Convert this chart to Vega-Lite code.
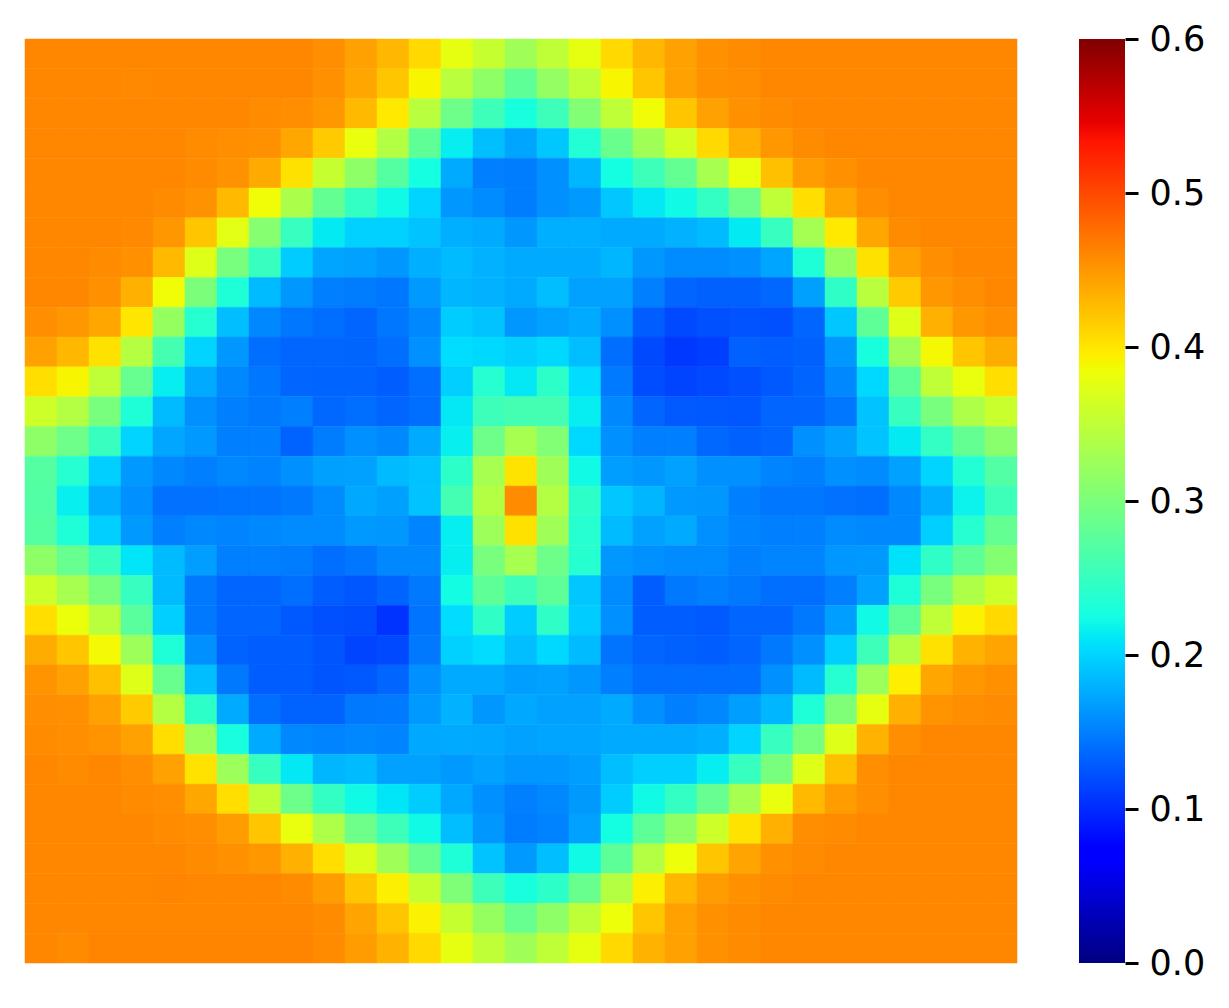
{"$schema":"https://vega.github.io/schema/vega-lite/v6.json","background":"white","padding":{"left":24,"top":22,"right":0,"bottom":0},"spacing":61,"config":{"view":{"stroke":null}},"hconcat":[{"width":992,"height":924,"data":{"values":[
{"c":0,"r":0,"v":0.46},{"c":1,"r":0,"v":0.46},{"c":2,"r":0,"v":0.46},{"c":3,"r":0,"v":0.46},{"c":4,"r":0,"v":0.46},{"c":5,"r":0,"v":0.46},{"c":6,"r":0,"v":0.46},{"c":7,"r":0,"v":0.46},{"c":8,"r":0,"v":0.46},{"c":9,"r":0,"v":0.455},{"c":10,"r":0,"v":0.444},{"c":11,"r":0,"v":0.43},{"c":12,"r":0,"v":0.408},{"c":13,"r":0,"v":0.378},{"c":14,"r":0,"v":0.355},{"c":15,"r":0,"v":0.327},{"c":16,"r":0,"v":0.35},{"c":17,"r":0,"v":0.378},{"c":18,"r":0,"v":0.408},{"c":19,"r":0,"v":0.43},{"c":20,"r":0,"v":0.444},{"c":21,"r":0,"v":0.454},{"c":22,"r":0,"v":0.458},{"c":23,"r":0,"v":0.46},{"c":24,"r":0,"v":0.46},{"c":25,"r":0,"v":0.46},{"c":26,"r":0,"v":0.46},{"c":27,"r":0,"v":0.46},{"c":28,"r":0,"v":0.46},{"c":29,"r":0,"v":0.46},{"c":30,"r":0,"v":0.46},
{"c":0,"r":1,"v":0.46},{"c":1,"r":1,"v":0.46},{"c":2,"r":1,"v":0.46},{"c":3,"r":1,"v":0.459},{"c":4,"r":1,"v":0.46},{"c":5,"r":1,"v":0.46},{"c":6,"r":1,"v":0.46},{"c":7,"r":1,"v":0.46},{"c":8,"r":1,"v":0.46},{"c":9,"r":1,"v":0.454},{"c":10,"r":1,"v":0.44},{"c":11,"r":1,"v":0.42},{"c":12,"r":1,"v":0.39},{"c":13,"r":1,"v":0.345},{"c":14,"r":1,"v":0.315},{"c":15,"r":1,"v":0.28},{"c":16,"r":1,"v":0.318},{"c":17,"r":1,"v":0.35},{"c":18,"r":1,"v":0.39},{"c":19,"r":1,"v":0.42},{"c":20,"r":1,"v":0.444},{"c":21,"r":1,"v":0.454},{"c":22,"r":1,"v":0.456},{"c":23,"r":1,"v":0.46},{"c":24,"r":1,"v":0.46},{"c":25,"r":1,"v":0.46},{"c":26,"r":1,"v":0.46},{"c":27,"r":1,"v":0.46},{"c":28,"r":1,"v":0.46},{"c":29,"r":1,"v":0.46},{"c":30,"r":1,"v":0.46},
{"c":0,"r":2,"v":0.46},{"c":1,"r":2,"v":0.46},{"c":2,"r":2,"v":0.46},{"c":3,"r":2,"v":0.46},{"c":4,"r":2,"v":0.46},{"c":5,"r":2,"v":0.46},{"c":6,"r":2,"v":0.46},{"c":7,"r":2,"v":0.458},{"c":8,"r":2,"v":0.456},{"c":9,"r":2,"v":0.45},{"c":10,"r":2,"v":0.428},{"c":11,"r":2,"v":0.398},{"c":12,"r":2,"v":0.345},{"c":13,"r":2,"v":0.29},{"c":14,"r":2,"v":0.255},{"c":15,"r":2,"v":0.228},{"c":16,"r":2,"v":0.255},{"c":17,"r":2,"v":0.305},{"c":18,"r":2,"v":0.35},{"c":19,"r":2,"v":0.385},{"c":20,"r":2,"v":0.42},{"c":21,"r":2,"v":0.444},{"c":22,"r":2,"v":0.454},{"c":23,"r":2,"v":0.458},{"c":24,"r":2,"v":0.46},{"c":25,"r":2,"v":0.46},{"c":26,"r":2,"v":0.46},{"c":27,"r":2,"v":0.46},{"c":28,"r":2,"v":0.46},{"c":29,"r":2,"v":0.46},{"c":30,"r":2,"v":0.46},
{"c":0,"r":3,"v":0.46},{"c":1,"r":3,"v":0.46},{"c":2,"r":3,"v":0.46},{"c":3,"r":3,"v":0.46},{"c":4,"r":3,"v":0.46},{"c":5,"r":3,"v":0.458},{"c":6,"r":3,"v":0.455},{"c":7,"r":3,"v":0.454},{"c":8,"r":3,"v":0.44},{"c":9,"r":3,"v":0.417},{"c":10,"r":3,"v":0.38},{"c":11,"r":3,"v":0.34},{"c":12,"r":3,"v":0.28},{"c":13,"r":3,"v":0.215},{"c":14,"r":3,"v":0.1875},{"c":15,"r":3,"v":0.172},{"c":16,"r":3,"v":0.192},{"c":17,"r":3,"v":0.235},{"c":18,"r":3,"v":0.287},{"c":19,"r":3,"v":0.327},{"c":20,"r":3,"v":0.365},{"c":21,"r":3,"v":0.408},{"c":22,"r":3,"v":0.434},{"c":23,"r":3,"v":0.45},{"c":24,"r":3,"v":0.458},{"c":25,"r":3,"v":0.46},{"c":26,"r":3,"v":0.46},{"c":27,"r":3,"v":0.46},{"c":28,"r":3,"v":0.46},{"c":29,"r":3,"v":0.46},{"c":30,"r":3,"v":0.46},
{"c":0,"r":4,"v":0.46},{"c":1,"r":4,"v":0.46},{"c":2,"r":4,"v":0.46},{"c":3,"r":4,"v":0.46},{"c":4,"r":4,"v":0.46},{"c":5,"r":4,"v":0.458},{"c":6,"r":4,"v":0.453},{"c":7,"r":4,"v":0.438},{"c":8,"r":4,"v":0.403},{"c":9,"r":4,"v":0.355},{"c":10,"r":4,"v":0.315},{"c":11,"r":4,"v":0.272},{"c":12,"r":4,"v":0.226},{"c":13,"r":4,"v":0.175},{"c":14,"r":4,"v":0.15},{"c":15,"r":4,"v":0.148},{"c":16,"r":4,"v":0.16},{"c":17,"r":4,"v":0.182},{"c":18,"r":4,"v":0.225},{"c":19,"r":4,"v":0.255},{"c":20,"r":4,"v":0.283},{"c":21,"r":4,"v":0.332},{"c":22,"r":4,"v":0.38},{"c":23,"r":4,"v":0.424},{"c":24,"r":4,"v":0.447},{"c":25,"r":4,"v":0.454},{"c":26,"r":4,"v":0.46},{"c":27,"r":4,"v":0.46},{"c":28,"r":4,"v":0.46},{"c":29,"r":4,"v":0.46},{"c":30,"r":4,"v":0.46},
{"c":0,"r":5,"v":0.46},{"c":1,"r":5,"v":0.46},{"c":2,"r":5,"v":0.46},{"c":3,"r":5,"v":0.46},{"c":4,"r":5,"v":0.458},{"c":5,"r":5,"v":0.453},{"c":6,"r":5,"v":0.428},{"c":7,"r":5,"v":0.385},{"c":8,"r":5,"v":0.335},{"c":9,"r":5,"v":0.283},{"c":10,"r":5,"v":0.248},{"c":11,"r":5,"v":0.222},{"c":12,"r":5,"v":0.2},{"c":13,"r":5,"v":0.164},{"c":14,"r":5,"v":0.157},{"c":15,"r":5,"v":0.148},{"c":16,"r":5,"v":0.16},{"c":17,"r":5,"v":0.166},{"c":18,"r":5,"v":0.192},{"c":19,"r":5,"v":0.212},{"c":20,"r":5,"v":0.222},{"c":21,"r":5,"v":0.248},{"c":22,"r":5,"v":0.29},{"c":23,"r":5,"v":0.35},{"c":24,"r":5,"v":0.405},{"c":25,"r":5,"v":0.44},{"c":26,"r":5,"v":0.456},{"c":27,"r":5,"v":0.46},{"c":28,"r":5,"v":0.46},{"c":29,"r":5,"v":0.46},{"c":30,"r":5,"v":0.46},
{"c":0,"r":6,"v":0.46},{"c":1,"r":6,"v":0.46},{"c":2,"r":6,"v":0.46},{"c":3,"r":6,"v":0.459},{"c":4,"r":6,"v":0.45},{"c":5,"r":6,"v":0.42},{"c":6,"r":6,"v":0.375},{"c":7,"r":6,"v":0.308},{"c":8,"r":6,"v":0.25},{"c":9,"r":6,"v":0.213},{"c":10,"r":6,"v":0.198},{"c":11,"r":6,"v":0.198},{"c":12,"r":6,"v":0.19},{"c":13,"r":6,"v":0.178},{"c":14,"r":6,"v":0.175},{"c":15,"r":6,"v":0.164},{"c":16,"r":6,"v":0.178},{"c":17,"r":6,"v":0.178},{"c":18,"r":6,"v":0.175},{"c":19,"r":6,"v":0.175},{"c":20,"r":6,"v":0.18},{"c":21,"r":6,"v":0.185},{"c":22,"r":6,"v":0.213},{"c":23,"r":6,"v":0.25},{"c":24,"r":6,"v":0.33},{"c":25,"r":6,"v":0.398},{"c":26,"r":6,"v":0.44},{"c":27,"r":6,"v":0.458},{"c":28,"r":6,"v":0.46},{"c":29,"r":6,"v":0.46},{"c":30,"r":6,"v":0.46},
{"c":0,"r":7,"v":0.46},{"c":1,"r":7,"v":0.46},{"c":2,"r":7,"v":0.458},{"c":3,"r":7,"v":0.454},{"c":4,"r":7,"v":0.428},{"c":5,"r":7,"v":0.372},{"c":6,"r":7,"v":0.298},{"c":7,"r":7,"v":0.25},{"c":8,"r":7,"v":0.195},{"c":9,"r":7,"v":0.172},{"c":10,"r":7,"v":0.17},{"c":11,"r":7,"v":0.164},{"c":12,"r":7,"v":0.178},{"c":13,"r":7,"v":0.185},{"c":14,"r":7,"v":0.18},{"c":15,"r":7,"v":0.175},{"c":16,"r":7,"v":0.176},{"c":17,"r":7,"v":0.176},{"c":18,"r":7,"v":0.182},{"c":19,"r":7,"v":0.164},{"c":20,"r":7,"v":0.157},{"c":21,"r":7,"v":0.157},{"c":22,"r":7,"v":0.16},{"c":23,"r":7,"v":0.172},{"c":24,"r":7,"v":0.232},{"c":25,"r":7,"v":0.32},{"c":26,"r":7,"v":0.403},{"c":27,"r":7,"v":0.444},{"c":28,"r":7,"v":0.456},{"c":29,"r":7,"v":0.46},{"c":30,"r":7,"v":0.46},
{"c":0,"r":8,"v":0.46},{"c":1,"r":8,"v":0.46},{"c":2,"r":8,"v":0.454},{"c":3,"r":8,"v":0.434},{"c":4,"r":8,"v":0.385},{"c":5,"r":8,"v":0.3},{"c":6,"r":8,"v":0.232},{"c":7,"r":8,"v":0.185},{"c":8,"r":8,"v":0.164},{"c":9,"r":8,"v":0.15},{"c":10,"r":8,"v":0.148},{"c":11,"r":8,"v":0.145},{"c":12,"r":8,"v":0.166},{"c":13,"r":8,"v":0.183},{"c":14,"r":8,"v":0.18},{"c":15,"r":8,"v":0.175},{"c":16,"r":8,"v":0.187},{"c":17,"r":8,"v":0.17},{"c":18,"r":8,"v":0.17},{"c":19,"r":8,"v":0.15},{"c":20,"r":8,"v":0.135},{"c":21,"r":8,"v":0.132},{"c":22,"r":8,"v":0.132},{"c":23,"r":8,"v":0.136},{"c":24,"r":8,"v":0.169},{"c":25,"r":8,"v":0.245},{"c":26,"r":8,"v":0.345},{"c":27,"r":8,"v":0.417},{"c":28,"r":8,"v":0.45},{"c":29,"r":8,"v":0.456},{"c":30,"r":8,"v":0.46},
{"c":0,"r":9,"v":0.455},{"c":1,"r":9,"v":0.45},{"c":2,"r":9,"v":0.44},{"c":3,"r":9,"v":0.4},{"c":4,"r":9,"v":0.32},{"c":5,"r":9,"v":0.238},{"c":6,"r":9,"v":0.187},{"c":7,"r":9,"v":0.155},{"c":8,"r":9,"v":0.145},{"c":9,"r":9,"v":0.14},{"c":10,"r":9,"v":0.135},{"c":11,"r":9,"v":0.145},{"c":12,"r":9,"v":0.155},{"c":13,"r":9,"v":0.195},{"c":14,"r":9,"v":0.19},{"c":15,"r":9,"v":0.164},{"c":16,"r":9,"v":0.17},{"c":17,"r":9,"v":0.175},{"c":18,"r":9,"v":0.16},{"c":19,"r":9,"v":0.13},{"c":20,"r":9,"v":0.118},{"c":21,"r":9,"v":0.122},{"c":22,"r":9,"v":0.124},{"c":23,"r":9,"v":0.122},{"c":24,"r":9,"v":0.135},{"c":25,"r":9,"v":0.192},{"c":26,"r":9,"v":0.28},{"c":27,"r":9,"v":0.372},{"c":28,"r":9,"v":0.434},{"c":29,"r":9,"v":0.45},{"c":30,"r":9,"v":0.455},
{"c":0,"r":10,"v":0.444},{"c":1,"r":10,"v":0.43},{"c":2,"r":10,"v":0.403},{"c":3,"r":10,"v":0.342},{"c":4,"r":10,"v":0.26},{"c":5,"r":10,"v":0.2},{"c":6,"r":10,"v":0.164},{"c":7,"r":10,"v":0.14},{"c":8,"r":10,"v":0.135},{"c":9,"r":10,"v":0.135},{"c":10,"r":10,"v":0.134},{"c":11,"r":10,"v":0.14},{"c":12,"r":10,"v":0.16},{"c":13,"r":10,"v":0.205},{"c":14,"r":10,"v":0.203},{"c":15,"r":10,"v":0.197},{"c":16,"r":10,"v":0.203},{"c":17,"r":10,"v":0.187},{"c":18,"r":10,"v":0.14},{"c":19,"r":10,"v":0.118},{"c":20,"r":10,"v":0.108},{"c":21,"r":10,"v":0.112},{"c":22,"r":10,"v":0.132},{"c":23,"r":10,"v":0.13},{"c":24,"r":10,"v":0.132},{"c":25,"r":10,"v":0.164},{"c":26,"r":10,"v":0.228},{"c":27,"r":10,"v":0.327},{"c":28,"r":10,"v":0.388},{"c":29,"r":10,"v":0.42},{"c":30,"r":10,"v":0.437},
{"c":0,"r":11,"v":0.405},{"c":1,"r":11,"v":0.39},{"c":2,"r":11,"v":0.35},{"c":3,"r":11,"v":0.285},{"c":4,"r":11,"v":0.215},{"c":5,"r":11,"v":0.175},{"c":6,"r":11,"v":0.155},{"c":7,"r":11,"v":0.145},{"c":8,"r":11,"v":0.135},{"c":9,"r":11,"v":0.134},{"c":10,"r":11,"v":0.134},{"c":11,"r":11,"v":0.13},{"c":12,"r":11,"v":0.14},{"c":13,"r":11,"v":0.197},{"c":14,"r":11,"v":0.238},{"c":15,"r":11,"v":0.212},{"c":16,"r":11,"v":0.243},{"c":17,"r":11,"v":0.205},{"c":18,"r":11,"v":0.147},{"c":19,"r":11,"v":0.12},{"c":20,"r":11,"v":0.115},{"c":21,"r":11,"v":0.118},{"c":22,"r":11,"v":0.122},{"c":23,"r":11,"v":0.127},{"c":24,"r":11,"v":0.134},{"c":25,"r":11,"v":0.155},{"c":26,"r":11,"v":0.203},{"c":27,"r":11,"v":0.28},{"c":28,"r":11,"v":0.35},{"c":29,"r":11,"v":0.38},{"c":30,"r":11,"v":0.405},
{"c":0,"r":12,"v":0.36},{"c":1,"r":12,"v":0.34},{"c":2,"r":12,"v":0.298},{"c":3,"r":12,"v":0.232},{"c":4,"r":12,"v":0.185},{"c":5,"r":12,"v":0.16},{"c":6,"r":12,"v":0.15},{"c":7,"r":12,"v":0.146},{"c":8,"r":12,"v":0.15},{"c":9,"r":12,"v":0.136},{"c":10,"r":12,"v":0.14},{"c":11,"r":12,"v":0.135},{"c":12,"r":12,"v":0.14},{"c":13,"r":12,"v":0.212},{"c":14,"r":12,"v":0.255},{"c":15,"r":12,"v":0.26},{"c":16,"r":12,"v":0.26},{"c":17,"r":12,"v":0.215},{"c":18,"r":12,"v":0.155},{"c":19,"r":12,"v":0.135},{"c":20,"r":12,"v":0.128},{"c":21,"r":12,"v":0.127},{"c":22,"r":12,"v":0.126},{"c":23,"r":12,"v":0.135},{"c":24,"r":12,"v":0.135},{"c":25,"r":12,"v":0.145},{"c":26,"r":12,"v":0.19},{"c":27,"r":12,"v":0.25},{"c":28,"r":12,"v":0.298},{"c":29,"r":12,"v":0.337},{"c":30,"r":12,"v":0.357},
{"c":0,"r":13,"v":0.315},{"c":1,"r":13,"v":0.29},{"c":2,"r":13,"v":0.25},{"c":3,"r":13,"v":0.2},{"c":4,"r":13,"v":0.173},{"c":5,"r":13,"v":0.165},{"c":6,"r":13,"v":0.15},{"c":7,"r":13,"v":0.15},{"c":8,"r":13,"v":0.133},{"c":9,"r":13,"v":0.148},{"c":10,"r":13,"v":0.16},{"c":11,"r":13,"v":0.155},{"c":12,"r":13,"v":0.176},{"c":13,"r":13,"v":0.216},{"c":14,"r":13,"v":0.29},{"c":15,"r":13,"v":0.332},{"c":16,"r":13,"v":0.305},{"c":17,"r":13,"v":0.203},{"c":18,"r":13,"v":0.16},{"c":19,"r":13,"v":0.15},{"c":20,"r":13,"v":0.15},{"c":21,"r":13,"v":0.136},{"c":22,"r":13,"v":0.132},{"c":23,"r":13,"v":0.135},{"c":24,"r":13,"v":0.16},{"c":25,"r":13,"v":0.17},{"c":26,"r":13,"v":0.19},{"c":27,"r":13,"v":0.213},{"c":28,"r":13,"v":0.248},{"c":29,"r":13,"v":0.283},{"c":30,"r":13,"v":0.31},
{"c":0,"r":14,"v":0.272},{"c":1,"r":14,"v":0.238},{"c":2,"r":14,"v":0.197},{"c":3,"r":14,"v":0.166},{"c":4,"r":14,"v":0.155},{"c":5,"r":14,"v":0.15},{"c":6,"r":14,"v":0.155},{"c":7,"r":14,"v":0.152},{"c":8,"r":14,"v":0.16},{"c":9,"r":14,"v":0.169},{"c":10,"r":14,"v":0.17},{"c":11,"r":14,"v":0.185},{"c":12,"r":14,"v":0.19},{"c":13,"r":14,"v":0.243},{"c":14,"r":14,"v":0.332},{"c":15,"r":14,"v":0.402},{"c":16,"r":14,"v":0.327},{"c":17,"r":14,"v":0.222},{"c":18,"r":14,"v":0.168},{"c":19,"r":14,"v":0.164},{"c":20,"r":14,"v":0.17},{"c":21,"r":14,"v":0.16},{"c":22,"r":14,"v":0.16},{"c":23,"r":14,"v":0.153},{"c":24,"r":14,"v":0.15},{"c":25,"r":14,"v":0.16},{"c":26,"r":14,"v":0.157},{"c":27,"r":14,"v":0.17},{"c":28,"r":14,"v":0.2},{"c":29,"r":14,"v":0.235},{"c":30,"r":14,"v":0.27},
{"c":0,"r":15,"v":0.27},{"c":1,"r":15,"v":0.216},{"c":2,"r":15,"v":0.178},{"c":3,"r":15,"v":0.16},{"c":4,"r":15,"v":0.142},{"c":5,"r":15,"v":0.142},{"c":6,"r":15,"v":0.143},{"c":7,"r":15,"v":0.143},{"c":8,"r":15,"v":0.146},{"c":9,"r":15,"v":0.157},{"c":10,"r":15,"v":0.174},{"c":11,"r":15,"v":0.169},{"c":12,"r":15,"v":0.19},{"c":13,"r":15,"v":0.26},{"c":14,"r":15,"v":0.34},{"c":15,"r":15,"v":0.458},{"c":16,"r":15,"v":0.34},{"c":17,"r":15,"v":0.243},{"c":18,"r":15,"v":0.192},{"c":19,"r":15,"v":0.182},{"c":20,"r":15,"v":0.166},{"c":21,"r":15,"v":0.164},{"c":22,"r":15,"v":0.15},{"c":23,"r":15,"v":0.145},{"c":24,"r":15,"v":0.145},{"c":25,"r":15,"v":0.142},{"c":26,"r":15,"v":0.14},{"c":27,"r":15,"v":0.155},{"c":28,"r":15,"v":0.178},{"c":29,"r":15,"v":0.218},{"c":30,"r":15,"v":0.255},
{"c":0,"r":16,"v":0.272},{"c":1,"r":16,"v":0.232},{"c":2,"r":16,"v":0.197},{"c":3,"r":16,"v":0.166},{"c":4,"r":16,"v":0.15},{"c":5,"r":16,"v":0.155},{"c":6,"r":16,"v":0.153},{"c":7,"r":16,"v":0.155},{"c":8,"r":16,"v":0.157},{"c":9,"r":16,"v":0.157},{"c":10,"r":16,"v":0.166},{"c":11,"r":16,"v":0.164},{"c":12,"r":16,"v":0.153},{"c":13,"r":16,"v":0.215},{"c":14,"r":16,"v":0.325},{"c":15,"r":16,"v":0.403},{"c":16,"r":16,"v":0.327},{"c":17,"r":16,"v":0.238},{"c":18,"r":16,"v":0.185},{"c":19,"r":16,"v":0.17},{"c":20,"r":16,"v":0.176},{"c":21,"r":16,"v":0.16},{"c":22,"r":16,"v":0.153},{"c":23,"r":16,"v":0.15},{"c":24,"r":16,"v":0.15},{"c":25,"r":16,"v":0.157},{"c":26,"r":16,"v":0.155},{"c":27,"r":16,"v":0.155},{"c":28,"r":16,"v":0.197},{"c":29,"r":16,"v":0.238},{"c":30,"r":16,"v":0.283},
{"c":0,"r":17,"v":0.315},{"c":1,"r":17,"v":0.285},{"c":2,"r":17,"v":0.25},{"c":3,"r":17,"v":0.21},{"c":4,"r":17,"v":0.185},{"c":5,"r":17,"v":0.168},{"c":6,"r":17,"v":0.15},{"c":7,"r":17,"v":0.15},{"c":8,"r":17,"v":0.148},{"c":9,"r":17,"v":0.14},{"c":10,"r":17,"v":0.145},{"c":11,"r":17,"v":0.155},{"c":12,"r":17,"v":0.155},{"c":13,"r":17,"v":0.215},{"c":14,"r":17,"v":0.298},{"c":15,"r":17,"v":0.332},{"c":16,"r":17,"v":0.29},{"c":17,"r":17,"v":0.238},{"c":18,"r":17,"v":0.164},{"c":19,"r":17,"v":0.16},{"c":20,"r":17,"v":0.157},{"c":21,"r":17,"v":0.157},{"c":22,"r":17,"v":0.15},{"c":23,"r":17,"v":0.153},{"c":24,"r":17,"v":0.153},{"c":25,"r":17,"v":0.164},{"c":26,"r":17,"v":0.166},{"c":27,"r":17,"v":0.208},{"c":28,"r":17,"v":0.245},{"c":29,"r":17,"v":0.28},{"c":30,"r":17,"v":0.307},
{"c":0,"r":18,"v":0.36},{"c":1,"r":18,"v":0.332},{"c":2,"r":18,"v":0.298},{"c":3,"r":18,"v":0.25},{"c":4,"r":18,"v":0.185},{"c":5,"r":18,"v":0.146},{"c":6,"r":18,"v":0.135},{"c":7,"r":18,"v":0.135},{"c":8,"r":18,"v":0.14},{"c":9,"r":18,"v":0.13},{"c":10,"r":18,"v":0.126},{"c":11,"r":18,"v":0.134},{"c":12,"r":18,"v":0.146},{"c":13,"r":18,"v":0.224},{"c":14,"r":18,"v":0.28},{"c":15,"r":18,"v":0.255},{"c":16,"r":18,"v":0.28},{"c":17,"r":18,"v":0.192},{"c":18,"r":18,"v":0.157},{"c":19,"r":18,"v":0.13},{"c":20,"r":18,"v":0.146},{"c":21,"r":18,"v":0.15},{"c":22,"r":18,"v":0.146},{"c":23,"r":18,"v":0.14},{"c":24,"r":18,"v":0.14},{"c":25,"r":18,"v":0.15},{"c":26,"r":18,"v":0.17},{"c":27,"r":18,"v":0.232},{"c":28,"r":18,"v":0.298},{"c":29,"r":18,"v":0.337},{"c":30,"r":18,"v":0.36},
{"c":0,"r":19,"v":0.405},{"c":1,"r":19,"v":0.382},{"c":2,"r":19,"v":0.345},{"c":3,"r":19,"v":0.275},{"c":4,"r":19,"v":0.197},{"c":5,"r":19,"v":0.146},{"c":6,"r":19,"v":0.135},{"c":7,"r":19,"v":0.135},{"c":8,"r":19,"v":0.127},{"c":9,"r":19,"v":0.122},{"c":10,"r":19,"v":0.12},{"c":11,"r":19,"v":0.105},{"c":12,"r":19,"v":0.143},{"c":13,"r":19,"v":0.205},{"c":14,"r":19,"v":0.245},{"c":15,"r":19,"v":0.195},{"c":16,"r":19,"v":0.245},{"c":17,"r":19,"v":0.195},{"c":18,"r":19,"v":0.16},{"c":19,"r":19,"v":0.13},{"c":20,"r":19,"v":0.13},{"c":21,"r":19,"v":0.128},{"c":22,"r":19,"v":0.135},{"c":23,"r":19,"v":0.135},{"c":24,"r":19,"v":0.146},{"c":25,"r":19,"v":0.168},{"c":26,"r":19,"v":0.222},{"c":27,"r":19,"v":0.28},{"c":28,"r":19,"v":0.35},{"c":29,"r":19,"v":0.392},{"c":30,"r":19,"v":0.408},
{"c":0,"r":20,"v":0.437},{"c":1,"r":20,"v":0.42},{"c":2,"r":20,"v":0.387},{"c":3,"r":20,"v":0.325},{"c":4,"r":20,"v":0.232},{"c":5,"r":20,"v":0.16},{"c":6,"r":20,"v":0.133},{"c":7,"r":20,"v":0.13},{"c":8,"r":20,"v":0.13},{"c":9,"r":20,"v":0.125},{"c":10,"r":20,"v":0.115},{"c":11,"r":20,"v":0.118},{"c":12,"r":20,"v":0.146},{"c":13,"r":20,"v":0.198},{"c":14,"r":20,"v":0.205},{"c":15,"r":20,"v":0.187},{"c":16,"r":20,"v":0.203},{"c":17,"r":20,"v":0.185},{"c":18,"r":20,"v":0.143},{"c":19,"r":20,"v":0.135},{"c":20,"r":20,"v":0.132},{"c":21,"r":20,"v":0.13},{"c":22,"r":20,"v":0.135},{"c":23,"r":20,"v":0.146},{"c":24,"r":20,"v":0.16},{"c":25,"r":20,"v":0.197},{"c":26,"r":20,"v":0.255},{"c":27,"r":20,"v":0.342},{"c":28,"r":20,"v":0.403},{"c":29,"r":20,"v":0.432},{"c":30,"r":20,"v":0.442},
{"c":0,"r":21,"v":0.452},{"c":1,"r":21,"v":0.444},{"c":2,"r":21,"v":0.424},{"c":3,"r":21,"v":0.372},{"c":4,"r":21,"v":0.287},{"c":5,"r":21,"v":0.187},{"c":6,"r":21,"v":0.146},{"c":7,"r":21,"v":0.13},{"c":8,"r":21,"v":0.13},{"c":9,"r":21,"v":0.125},{"c":10,"r":21,"v":0.127},{"c":11,"r":21,"v":0.135},{"c":12,"r":21,"v":0.16},{"c":13,"r":21,"v":0.176},{"c":14,"r":21,"v":0.176},{"c":15,"r":21,"v":0.168},{"c":16,"r":21,"v":0.17},{"c":17,"r":21,"v":0.164},{"c":18,"r":21,"v":0.15},{"c":19,"r":21,"v":0.14},{"c":20,"r":21,"v":0.14},{"c":21,"r":21,"v":0.14},{"c":22,"r":21,"v":0.14},{"c":23,"r":21,"v":0.16},{"c":24,"r":21,"v":0.185},{"c":25,"r":21,"v":0.238},{"c":26,"r":21,"v":0.325},{"c":27,"r":21,"v":0.395},{"c":28,"r":21,"v":0.44},{"c":29,"r":21,"v":0.45},{"c":30,"r":21,"v":0.454},
{"c":0,"r":22,"v":0.456},{"c":1,"r":22,"v":0.454},{"c":2,"r":22,"v":0.444},{"c":3,"r":22,"v":0.417},{"c":4,"r":22,"v":0.342},{"c":5,"r":22,"v":0.243},{"c":6,"r":22,"v":0.176},{"c":7,"r":22,"v":0.14},{"c":8,"r":22,"v":0.133},{"c":9,"r":22,"v":0.133},{"c":10,"r":22,"v":0.146},{"c":11,"r":22,"v":0.147},{"c":12,"r":22,"v":0.166},{"c":13,"r":22,"v":0.18},{"c":14,"r":22,"v":0.164},{"c":15,"r":22,"v":0.174},{"c":16,"r":22,"v":0.17},{"c":17,"r":22,"v":0.17},{"c":18,"r":22,"v":0.176},{"c":19,"r":22,"v":0.16},{"c":20,"r":22,"v":0.15},{"c":21,"r":22,"v":0.155},{"c":22,"r":22,"v":0.168},{"c":23,"r":22,"v":0.183},{"c":24,"r":22,"v":0.232},{"c":25,"r":22,"v":0.303},{"c":26,"r":22,"v":0.378},{"c":27,"r":22,"v":0.434},{"c":28,"r":22,"v":0.452},{"c":29,"r":22,"v":0.456},{"c":30,"r":22,"v":0.458},
{"c":0,"r":23,"v":0.458},{"c":1,"r":23,"v":0.456},{"c":2,"r":23,"v":0.452},{"c":3,"r":23,"v":0.444},{"c":4,"r":23,"v":0.405},{"c":5,"r":23,"v":0.325},{"c":6,"r":23,"v":0.228},{"c":7,"r":23,"v":0.176},{"c":8,"r":23,"v":0.155},{"c":9,"r":23,"v":0.153},{"c":10,"r":23,"v":0.155},{"c":11,"r":23,"v":0.153},{"c":12,"r":23,"v":0.174},{"c":13,"r":23,"v":0.176},{"c":14,"r":23,"v":0.174},{"c":15,"r":23,"v":0.17},{"c":16,"r":23,"v":0.172},{"c":17,"r":23,"v":0.172},{"c":18,"r":23,"v":0.176},{"c":19,"r":23,"v":0.176},{"c":20,"r":23,"v":0.176},{"c":21,"r":23,"v":0.178},{"c":22,"r":23,"v":0.2},{"c":23,"r":23,"v":0.25},{"c":24,"r":23,"v":0.298},{"c":25,"r":23,"v":0.372},{"c":26,"r":23,"v":0.432},{"c":27,"r":23,"v":0.456},{"c":28,"r":23,"v":0.46},{"c":29,"r":23,"v":0.46},{"c":30,"r":23,"v":0.46},
{"c":0,"r":24,"v":0.46},{"c":1,"r":24,"v":0.458},{"c":2,"r":24,"v":0.46},{"c":3,"r":24,"v":0.456},{"c":4,"r":24,"v":0.444},{"c":5,"r":24,"v":0.402},{"c":6,"r":24,"v":0.325},{"c":7,"r":24,"v":0.25},{"c":8,"r":24,"v":0.212},{"c":9,"r":24,"v":0.182},{"c":10,"r":24,"v":0.185},{"c":11,"r":24,"v":0.17},{"c":12,"r":24,"v":0.17},{"c":13,"r":24,"v":0.166},{"c":14,"r":24,"v":0.17},{"c":15,"r":24,"v":0.164},{"c":16,"r":24,"v":0.164},{"c":17,"r":24,"v":0.168},{"c":18,"r":24,"v":0.187},{"c":19,"r":24,"v":0.197},{"c":20,"r":24,"v":0.197},{"c":21,"r":24,"v":0.215},{"c":22,"r":24,"v":0.25},{"c":23,"r":24,"v":0.298},{"c":24,"r":24,"v":0.372},{"c":25,"r":24,"v":0.424},{"c":26,"r":24,"v":0.456},{"c":27,"r":24,"v":0.46},{"c":28,"r":24,"v":0.46},{"c":29,"r":24,"v":0.46},{"c":30,"r":24,"v":0.46},
{"c":0,"r":25,"v":0.46},{"c":1,"r":25,"v":0.46},{"c":2,"r":25,"v":0.46},{"c":3,"r":25,"v":0.458},{"c":4,"r":25,"v":0.455},{"c":5,"r":25,"v":0.44},{"c":6,"r":25,"v":0.405},{"c":7,"r":25,"v":0.35},{"c":8,"r":25,"v":0.29},{"c":9,"r":25,"v":0.248},{"c":10,"r":25,"v":0.222},{"c":11,"r":25,"v":0.21},{"c":12,"r":25,"v":0.195},{"c":13,"r":25,"v":0.174},{"c":14,"r":25,"v":0.16},{"c":15,"r":25,"v":0.15},{"c":16,"r":25,"v":0.155},{"c":17,"r":25,"v":0.166},{"c":18,"r":25,"v":0.195},{"c":19,"r":25,"v":0.222},{"c":20,"r":25,"v":0.248},{"c":21,"r":25,"v":0.285},{"c":22,"r":25,"v":0.332},{"c":23,"r":25,"v":0.38},{"c":24,"r":25,"v":0.428},{"c":25,"r":25,"v":0.447},{"c":26,"r":25,"v":0.456},{"c":27,"r":25,"v":0.46},{"c":28,"r":25,"v":0.46},{"c":29,"r":25,"v":0.46},{"c":30,"r":25,"v":0.46},
{"c":0,"r":26,"v":0.46},{"c":1,"r":26,"v":0.46},{"c":2,"r":26,"v":0.46},{"c":3,"r":26,"v":0.46},{"c":4,"r":26,"v":0.458},{"c":5,"r":26,"v":0.456},{"c":6,"r":26,"v":0.446},{"c":7,"r":26,"v":0.42},{"c":8,"r":26,"v":0.38},{"c":9,"r":26,"v":0.337},{"c":10,"r":26,"v":0.29},{"c":11,"r":26,"v":0.255},{"c":12,"r":26,"v":0.222},{"c":13,"r":26,"v":0.187},{"c":14,"r":26,"v":0.164},{"c":15,"r":26,"v":0.148},{"c":16,"r":26,"v":0.152},{"c":17,"r":26,"v":0.17},{"c":18,"r":26,"v":0.225},{"c":19,"r":26,"v":0.278},{"c":20,"r":26,"v":0.315},{"c":21,"r":26,"v":0.36},{"c":22,"r":26,"v":0.402},{"c":23,"r":26,"v":0.434},{"c":24,"r":26,"v":0.455},{"c":25,"r":26,"v":0.458},{"c":26,"r":26,"v":0.46},{"c":27,"r":26,"v":0.46},{"c":28,"r":26,"v":0.46},{"c":29,"r":26,"v":0.46},{"c":30,"r":26,"v":0.46},
{"c":0,"r":27,"v":0.46},{"c":1,"r":27,"v":0.46},{"c":2,"r":27,"v":0.46},{"c":3,"r":27,"v":0.46},{"c":4,"r":27,"v":0.46},{"c":5,"r":27,"v":0.458},{"c":6,"r":27,"v":0.454},{"c":7,"r":27,"v":0.45},{"c":8,"r":27,"v":0.434},{"c":9,"r":27,"v":0.405},{"c":10,"r":27,"v":0.37},{"c":11,"r":27,"v":0.327},{"c":12,"r":27,"v":0.285},{"c":13,"r":27,"v":0.232},{"c":14,"r":27,"v":0.19},{"c":15,"r":27,"v":0.166},{"c":16,"r":27,"v":0.187},{"c":17,"r":27,"v":0.222},{"c":18,"r":27,"v":0.278},{"c":19,"r":27,"v":0.34},{"c":20,"r":27,"v":0.383},{"c":21,"r":27,"v":0.42},{"c":22,"r":27,"v":0.442},{"c":23,"r":27,"v":0.454},{"c":24,"r":27,"v":0.458},{"c":25,"r":27,"v":0.46},{"c":26,"r":27,"v":0.46},{"c":27,"r":27,"v":0.46},{"c":28,"r":27,"v":0.46},{"c":29,"r":27,"v":0.46},{"c":30,"r":27,"v":0.46},
{"c":0,"r":28,"v":0.46},{"c":1,"r":28,"v":0.46},{"c":2,"r":28,"v":0.46},{"c":3,"r":28,"v":0.46},{"c":4,"r":28,"v":0.462},{"c":5,"r":28,"v":0.46},{"c":6,"r":28,"v":0.46},{"c":7,"r":28,"v":0.46},{"c":8,"r":28,"v":0.458},{"c":9,"r":28,"v":0.447},{"c":10,"r":28,"v":0.42},{"c":11,"r":28,"v":0.394},{"c":12,"r":28,"v":0.355},{"c":13,"r":28,"v":0.303},{"c":14,"r":28,"v":0.255},{"c":15,"r":28,"v":0.228},{"c":16,"r":28,"v":0.243},{"c":17,"r":28,"v":0.287},{"c":18,"r":28,"v":0.342},{"c":19,"r":28,"v":0.394},{"c":20,"r":28,"v":0.43},{"c":21,"r":28,"v":0.447},{"c":22,"r":28,"v":0.454},{"c":23,"r":28,"v":0.458},{"c":24,"r":28,"v":0.46},{"c":25,"r":28,"v":0.46},{"c":26,"r":28,"v":0.46},{"c":27,"r":28,"v":0.46},{"c":28,"r":28,"v":0.46},{"c":29,"r":28,"v":0.46},{"c":30,"r":28,"v":0.46},
{"c":0,"r":29,"v":0.46},{"c":1,"r":29,"v":0.46},{"c":2,"r":29,"v":0.46},{"c":3,"r":29,"v":0.46},{"c":4,"r":29,"v":0.46},{"c":5,"r":29,"v":0.46},{"c":6,"r":29,"v":0.46},{"c":7,"r":29,"v":0.46},{"c":8,"r":29,"v":0.46},{"c":9,"r":29,"v":0.458},{"c":10,"r":29,"v":0.442},{"c":11,"r":29,"v":0.42},{"c":12,"r":29,"v":0.392},{"c":13,"r":29,"v":0.355},{"c":14,"r":29,"v":0.32},{"c":15,"r":29,"v":0.285},{"c":16,"r":29,"v":0.315},{"c":17,"r":29,"v":0.35},{"c":18,"r":29,"v":0.383},{"c":19,"r":29,"v":0.42},{"c":20,"r":29,"v":0.444},{"c":21,"r":29,"v":0.454},{"c":22,"r":29,"v":0.458},{"c":23,"r":29,"v":0.46},{"c":24,"r":29,"v":0.46},{"c":25,"r":29,"v":0.46},{"c":26,"r":29,"v":0.46},{"c":27,"r":29,"v":0.46},{"c":28,"r":29,"v":0.46},{"c":29,"r":29,"v":0.46},{"c":30,"r":29,"v":0.46},
{"c":0,"r":30,"v":0.46},{"c":1,"r":30,"v":0.458},{"c":2,"r":30,"v":0.462},{"c":3,"r":30,"v":0.462},{"c":4,"r":30,"v":0.462},{"c":5,"r":30,"v":0.462},{"c":6,"r":30,"v":0.462},{"c":7,"r":30,"v":0.462},{"c":8,"r":30,"v":0.462},{"c":9,"r":30,"v":0.458},{"c":10,"r":30,"v":0.447},{"c":11,"r":30,"v":0.432},{"c":12,"r":30,"v":0.408},{"c":13,"r":30,"v":0.378},{"c":14,"r":30,"v":0.35},{"c":15,"r":30,"v":0.327},{"c":16,"r":30,"v":0.35},{"c":17,"r":30,"v":0.378},{"c":18,"r":30,"v":0.408},{"c":19,"r":30,"v":0.432},{"c":20,"r":30,"v":0.444},{"c":21,"r":30,"v":0.454},{"c":22,"r":30,"v":0.458},{"c":23,"r":30,"v":0.46},{"c":24,"r":30,"v":0.46},{"c":25,"r":30,"v":0.46},{"c":26,"r":30,"v":0.46},{"c":27,"r":30,"v":0.46},{"c":28,"r":30,"v":0.46},{"c":29,"r":30,"v":0.46},{"c":30,"r":30,"v":0.46}
]},"mark":{"type":"rect","strokeWidth":0.5},"encoding":{"x":{"field":"c","type":"ordinal","axis":null,"scale":{"paddingInner":0,"paddingOuter":0}},"y":{"field":"r","type":"ordinal","axis":null,"scale":{"paddingInner":0,"paddingOuter":0}},"color":{"field":"v","type":"quantitative","legend":null,"scale":{"type":"linear","interpolate":"rgb","clamp":true,"domain":[0,0.066,0.075,0.204,0.21,0.225,0.384,0.39,0.396,0.534,0.546,0.6],"range":["#000080","#0000ff","#0000ff","#00dbff","#00e5f7","#14ffe2","#eeff08","#f7f500","#ffec00","#ff1300","#e80000","#800000"]}},"stroke":{"field":"v","type":"quantitative","legend":null,"scale":{"type":"linear","interpolate":"rgb","clamp":true,"domain":[0,0.066,0.075,0.204,0.21,0.225,0.384,0.39,0.396,0.534,0.546,0.6],"range":["#000080","#0000ff","#0000ff","#00dbff","#00e5f7","#14ffe2","#eeff08","#f7f500","#ffec00","#ff1300","#e80000","#800000"]}}}},
{"width":46,"height":924,"data":{"values":[{"low":0,"high":0.6}]},"mark":{"type":"rect","fill":{"gradient":"linear","x1":0,"y1":1,"x2":0,"y2":0,"stops":[{"offset":0,"color":"#000080"},{"offset":0.11,"color":"#0000ff"},{"offset":0.125,"color":"#0000ff"},{"offset":0.34,"color":"#00dbff"},{"offset":0.35,"color":"#00e5f7"},{"offset":0.375,"color":"#14ffe2"},{"offset":0.64,"color":"#eeff08"},{"offset":0.65,"color":"#f7f500"},{"offset":0.66,"color":"#ffec00"},{"offset":0.89,"color":"#ff1300"},{"offset":0.91,"color":"#e80000"},{"offset":1,"color":"#800000"}]}},"encoding":{"y":{"field":"low","type":"quantitative","scale":{"domain":[0,0.6],"nice":false},"axis":{"orient":"right","title":null,"values":[0,0.1,0.2,0.3,0.4,0.5,0.6],"format":".1f","domain":false,"grid":false,"ticks":true,"tickSize":13,"tickWidth":3,"tickColor":"#000000","labelFontSize":35,"labelFont":"DejaVu Sans","labelColor":"#000000","labelPadding":11,"labelOverlap":false,"labelBound":false,"labelFlush":false}},"y2":{"field":"high"}}}],"resolve":{"scale":{"color":"independent","stroke":"independent","x":"independent","y":"independent"}}}
